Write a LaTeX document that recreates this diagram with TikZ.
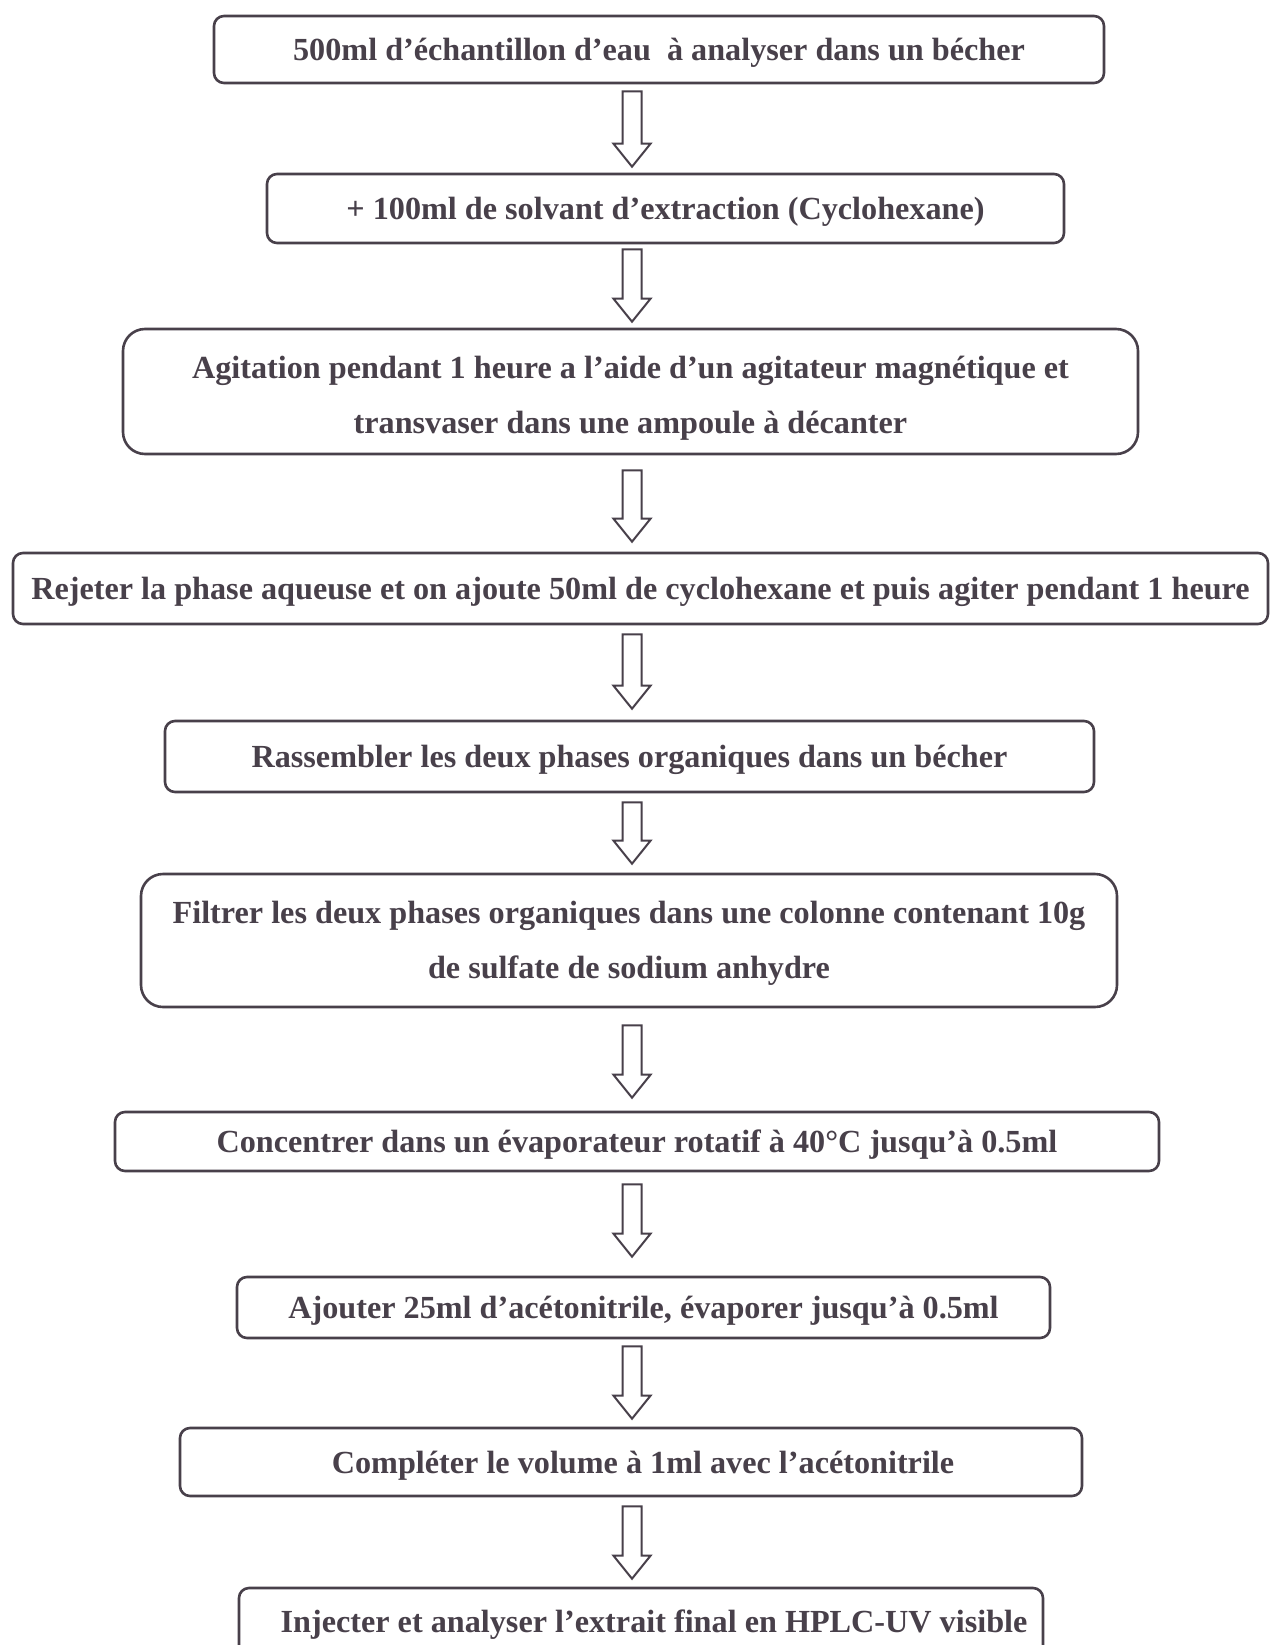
\documentclass[tikz,border=0pt]{standalone}
\usepackage{fontspec}
\setmainfont{Liberation Serif}
\usetikzlibrary{calc}
\definecolor{ink}{RGB}{72,64,74}
\tikzset{
  box/.style={draw=ink, line width=2.6pt, rounded corners=10pt, inner sep=0pt,
    text=ink, font=\fontsize{32.2}{55}\selectfont\bfseries, align=center,
    text height=29pt, text depth=7pt},
  bigbox/.style 2 args={box, rounded corners=22pt, text height=#1, text depth=#2},
  hollow/.style 2 args={draw=ink, line width=2pt, line join=miter,
    to path={let \p1=(\tikztostart), \p2=(\tikztotarget) in
      (622.5pt,\y1-#1) -- (641.5pt,\y1-#1) -- (641.5pt,\y2+#2+23pt) -- (650.5pt,\y2+#2+23pt)
      -- (632pt,\y2+#2) -- (613.5pt,\y2+#2+23pt) -- (622.5pt,\y2+#2+23pt) -- cycle}}
}
\begin{document}
\begin{tikzpicture}[x=1pt,y=-1pt]
\useasboundingbox (0,0) rectangle (1270,1645);
\fill[white] (0,0) rectangle (1270,1645);
\clip (0,0) rectangle (1270,1645);
\node[box, minimum width=890pt, minimum height=67pt] (b1) at (659,49.5)
  {500ml d’échantillon d’eau\ \ à analyser dans un bécher};
\node[box, minimum width=797pt, minimum height=69pt] (b2) at (665.5,208.5)
  {+ 100ml de solvant d’extraction (Cyclohexane)};
\node[bigbox={90pt}{7pt}, minimum width=1015pt, minimum height=125pt] (b3) at (630.5,391.5)
  {Agitation pendant 1 heure a l’aide d’un agitateur magnétique et\\transvaser dans une ampoule à décanter};
\node[box, minimum width=1255pt, minimum height=71pt] (b4) at (640.5,588.5)
  {Rejeter la phase aqueuse et on ajoute 50ml de cyclohexane et puis agiter pendant 1 heure};
\node[box, minimum width=929pt, minimum height=71pt] (b5) at (629.5,756.5)
  {Rassembler les deux phases organiques dans un bécher};
\node[bigbox={82pt}{7pt}, minimum width=976pt, minimum height=133pt] (b6) at (629,940.5)
  {Filtrer les deux phases organiques dans une colonne contenant 10g\\de sulfate de sodium anhydre};
\node[box, minimum width=1044pt, minimum height=59pt] (b7) at (637,1141.5)
  {Concentrer dans un évaporateur rotatif à 40°C jusqu’à 0.5ml};
\node[box, minimum width=813pt, minimum height=61pt] (b8) at (643.5,1307.5)
  {Ajouter 25ml d’acétonitrile, évaporer jusqu’à 0.5ml};
\node[box, minimum width=902pt, minimum height=68pt] (b9) at (631,1462)
  {\hspace*{24pt}Compléter le volume à 1ml avec l’acétonitrile};
\node[box, minimum width=804pt, minimum height=67pt] (b10) at (641,1621.5)
  {\hspace*{26pt}Injecter et analyser l’extrait final en HPLC-UV visible};
\draw[hollow={7pt}{6pt}] (b1.south) to (b2.north);
\draw[hollow={5pt}{6pt}] (b2.south) to (b3.north);
\draw[hollow={15pt}{10pt}] (b3.south) to (b4.north);
\draw[hollow={9pt}{11pt}] (b4.south) to (b5.north);
\draw[hollow={9pt}{9pt}] (b5.south) to (b6.north);
\draw[hollow={17pt}{13pt}] (b6.south) to (b7.north);
\draw[hollow={12pt}{19pt}] (b7.south) to (b8.north);
\draw[hollow={7pt}{8pt}] (b8.south) to (b9.north);
\draw[hollow={9pt}{8pt}] (b9.south) to (b10.north);
\end{tikzpicture}
\end{document}
